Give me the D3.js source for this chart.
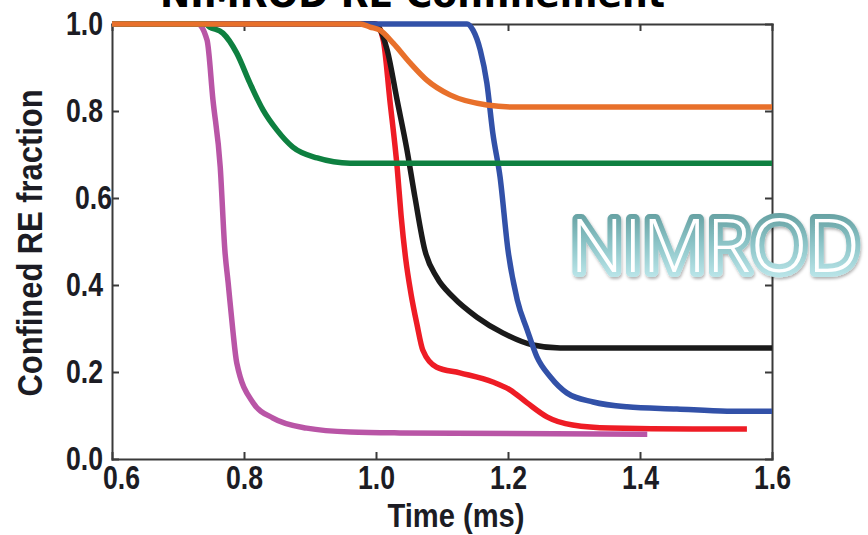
<!DOCTYPE html>
<html>
<head>
<meta charset="utf-8">
<script src="https://cdn.jsdelivr.net/npm/d3@7"></script>
<style>
  body { margin: 0; background: #fff; }
  svg { display: block; }
  .tick text { font-family: "Liberation Sans Narrow", "Liberation Sans", Arial, sans-serif; font-weight: bold; font-size: 34px; fill: #1c1c24; }
  .axis path, .axis line { stroke: #3a3a3a; stroke-width: 2; }
</style>
</head>
<body>
<svg id="chart" width="868" height="535"></svg>
<script>
// x ticks and y ticks
const xTicks = [0.6, 0.8, 1.0, 1.2, 1.4, 1.6];
const yTicks = [0.0, 0.2, 0.4, 0.6, 0.8, 1.0];

// each run: time (ms) and confined fraction
const purpleT = [0.6, 0.730, 0.744, 0.753, 0.764, 0.771, 0.776, 0.783, 0.789, 0.814, 0.844, 0.895, 0.961, 1.036, 1.411];
const purpleV = [1.0, 1.0, 0.963, 0.825, 0.671, 0.480, 0.405, 0.297, 0.221, 0.129, 0.094, 0.071, 0.062, 0.060, 0.057];

const redT = [0.6, 1.0, 1.011, 1.021, 1.032, 1.038, 1.045, 1.053, 1.062, 1.071, 1.092, 1.127, 1.177, 1.203, 1.229, 1.259, 1.298, 1.355, 1.480, 1.562];
const redV = [1.0, 1.0, 0.963, 0.825, 0.671, 0.560, 0.460, 0.380, 0.310, 0.250, 0.211, 0.198, 0.177, 0.159, 0.129, 0.097, 0.078, 0.071, 0.069, 0.069];

const blackT = [0.6, 0.998, 1.003, 1.017, 1.032, 1.047, 1.059, 1.074, 1.092, 1.117, 1.153, 1.192, 1.238, 1.279, 1.380, 1.6];
const blackV = [1.0, 1.0, 0.995, 0.940, 0.825, 0.710, 0.602, 0.480, 0.418, 0.372, 0.326, 0.290, 0.262, 0.255, 0.255, 0.255];

const blueT = [0.6, 1.138, 1.147, 1.158, 1.168, 1.177, 1.188, 1.200, 1.214, 1.229, 1.244, 1.264, 1.289, 1.329, 1.380, 1.456, 1.532, 1.6];
const blueV = [1.0, 1.0, 0.986, 0.940, 0.864, 0.749, 0.648, 0.480, 0.366, 0.297, 0.234, 0.189, 0.152, 0.131, 0.120, 0.115, 0.110, 0.110];

const greenT = [0.6, 0.741, 0.748, 0.768, 0.789, 0.809, 0.829, 0.850, 0.874, 0.911, 0.961, 1.026, 1.6];
const greenV = [1.0, 1.0, 0.993, 0.979, 0.933, 0.864, 0.802, 0.756, 0.717, 0.692, 0.680, 0.680, 0.680];

const orangeT = [0.6, 0.976, 0.991, 1.006, 1.026, 1.052, 1.077, 1.112, 1.168, 1.214, 1.6];
const orangeV = [1.0, 1.0, 0.993, 0.986, 0.956, 0.910, 0.871, 0.837, 0.814, 0.809, 0.809];

// drawing order, bottom first
const runs = [
  { t: redT, v: redV, color: "#ee1c25" },
  { t: blackT, v: blackV, color: "#1a1a1a" },
  { t: blueT, v: blueV, color: "#3251a8" },
  { t: purpleT, v: purpleV, color: "#b955a6" },
  { t: greenT, v: greenV, color: "#0e8040" },
  { t: orangeT, v: orangeV, color: "#e8702b" }
];

const svg = d3.select("#chart");
const plotLeft = 112, plotRight = 772, plotTop = 24, plotBottom = 459;

const x = d3.scaleLinear().domain([0.6, 1.6]).range([plotLeft, plotRight]);
const y = d3.scaleLinear().domain([0, 1]).range([plotBottom, plotTop]);

// title, mostly cut off by the top edge
svg.append("text")
  .attr("x", 160).attr("y", 7)
  .attr("textLength", 505).attr("lengthAdjust", "spacingAndGlyphs")
  .style("font-family", "'DejaVu Sans', 'Liberation Sans', sans-serif")
  .style("font-weight", "bold").style("font-size", "38px").style("fill", "#000")
  .text("NIMROD RE Confinement");

// axes, ticks pointing inward
svg.append("g").attr("class", "axis")
  .attr("transform", `translate(0,${plotBottom})`)
  .call(d3.axisBottom(x).tickValues(xTicks).tickFormat(d3.format(".1f")).tickSize(-7).tickSizeOuter(0).tickPadding(6));

svg.append("g").attr("class", "axis")
  .attr("transform", `translate(${plotLeft},0)`)
  .call(d3.axisLeft(y).tickValues(yTicks).tickFormat(d3.format(".1f")).tickSize(-7).tickSizeOuter(0).tickPadding(9));

svg.append("g").attr("class", "axis")
  .attr("transform", `translate(0,${plotTop})`)
  .call(d3.axisTop(x).tickValues(xTicks).tickFormat("").tickSize(-7).tickSizeOuter(0));

svg.append("g").attr("class", "axis")
  .attr("transform", `translate(${plotRight},0)`)
  .call(d3.axisRight(y).tickValues(yTicks).tickFormat("").tickSize(-7).tickSizeOuter(0));

svg.selectAll(".axis .domain").attr("stroke-linecap", "square");

// condensed look for the tick labels
svg.selectAll(".axis .tick text")
  .attr("textLength", 37).attr("lengthAdjust", "spacingAndGlyphs");

// first x label sits a bit right of its tick
svg.selectAll(".axis .tick text").filter(d => d === 0.6).attr("dx", 9);

// axis titles
svg.append("text")
  .attr("x", 456).attr("y", 527)
  .attr("text-anchor", "middle")
  .attr("textLength", 137).attr("lengthAdjust", "spacingAndGlyphs")
  .style("font-family", "'Liberation Sans Narrow', 'Liberation Sans', sans-serif")
  .style("font-weight", "bold").style("font-size", "34px").style("fill", "#1c1c24")
  .text("Time (ms)");

svg.append("text")
  .attr("transform", "translate(42,243) rotate(-90)")
  .attr("text-anchor", "middle")
  .attr("textLength", 307).attr("lengthAdjust", "spacingAndGlyphs")
  .style("font-family", "'Liberation Sans Narrow', 'Liberation Sans', sans-serif")
  .style("font-weight", "bold").style("font-size", "35px").style("fill", "#1c1c24")
  .text("Confined RE fraction");

// curves
const line = d3.line()
  .x(d => x(d[0]))
  .y(d => y(d[1]))
  .curve(d3.curveMonotoneX);

runs.forEach(r => {
  svg.append("path")
    .datum(r.t.map((t, i) => [t, r.v[i]]))
    .attr("d", line)
    .attr("fill", "none")
    .attr("stroke", r.color)
    .attr("stroke-width", 5.5)
    .attr("stroke-linejoin", "round")
    .attr("stroke-linecap", "butt");
});

// NIMROD word art
const defs = svg.append("defs");
const grad = defs.append("linearGradient")
  .attr("id", "teal").attr("x1", 0).attr("y1", 0).attr("x2", 0).attr("y2", 1);
grad.append("stop").attr("offset", "0%").attr("stop-color", "#4d8a8a");
grad.append("stop").attr("offset", "50%").attr("stop-color", "#8cc4c7");
grad.append("stop").attr("offset", "100%").attr("stop-color", "#d2f6fa");

defs.append("filter").attr("id", "shadow")
  .attr("x", "-5%").attr("y", "-10%").attr("width", "115%").attr("height", "130%")
  .append("feDropShadow")
  .attr("dx", 1).attr("dy", 2).attr("stdDeviation", 1.5)
  .attr("flood-color", "#000").attr("flood-opacity", 0.3);

svg.append("text")
  .attr("x", 570).attr("y", 272)
  .attr("textLength", 290).attr("lengthAdjust", "spacingAndGlyphs")
  .attr("filter", "url(#shadow)")
  .style("font-family", "'Open Sans', 'Noto Sans', sans-serif")
  .style("font-weight", "300").style("font-size", "74px")
  .style("fill", "#fff").style("stroke", "url(#teal)").style("stroke-width", 10)
  .style("paint-order", "stroke fill").style("stroke-linejoin", "round")
  .text("NIMROD");
</script>
</body>
</html>
